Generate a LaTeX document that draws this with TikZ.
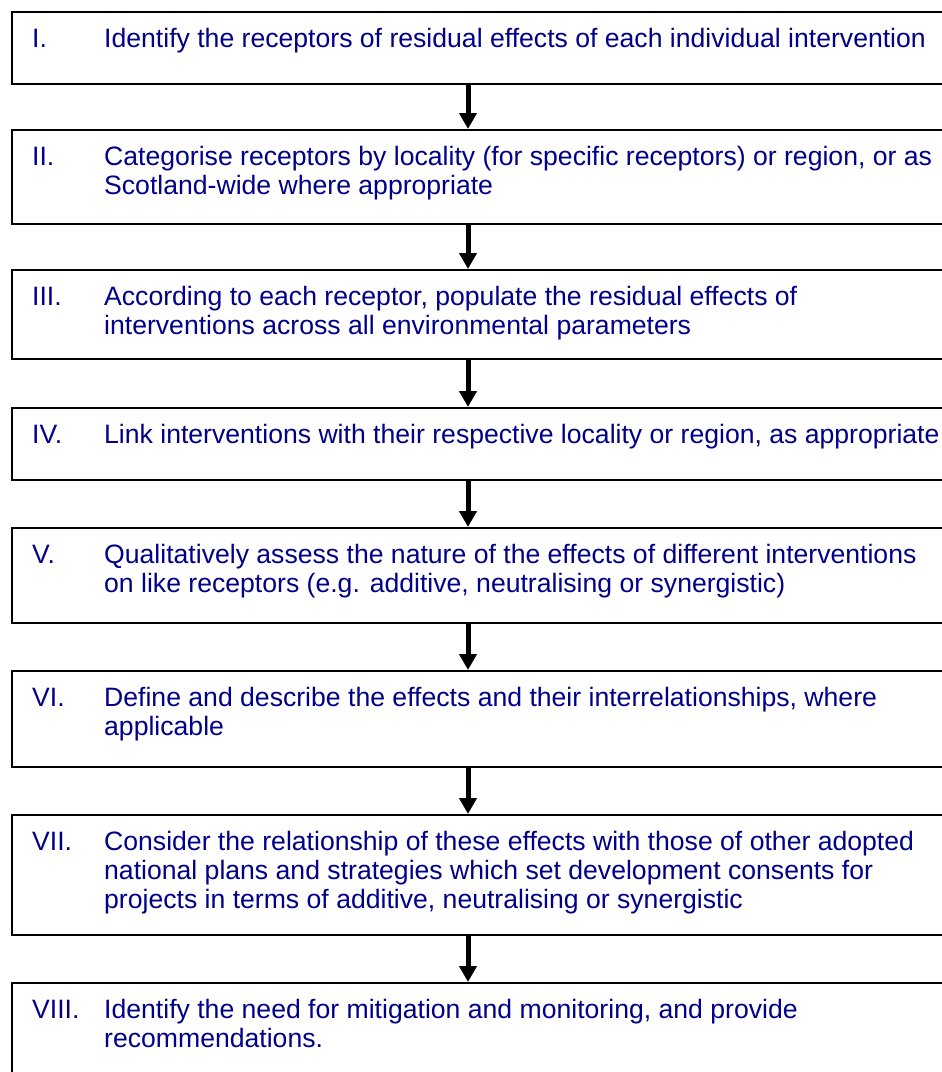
\documentclass[tikz,border=0pt]{standalone}
\usepackage{fontspec}
\setmainfont{Liberation Sans}
\usetikzlibrary{arrows.meta,calc}
\definecolor{txtblue}{RGB}{0,0,136}
\tikzset{
  stagebox/.style={draw=black,line width=2.2pt,fill=white,anchor=north west,minimum width=980pt,inner sep=0pt},
  numlabel/.style={anchor=base west,inner sep=0pt,text=txtblue,font=\fontsize{26.6}{29.3}\selectfont},
  bodytext/.style={anchor=base west,inner sep=0pt,text=txtblue,font=\fontsize{26.6}{29.3}\selectfont},
  flowarrow/.style={line width=5pt,-{Triangle[width=17pt,length=16pt]}}
}
\newcommand{\bodyblock}[1]{\parbox[t]{900pt}{\raggedright #1}}
\begin{document}
\begin{tikzpicture}[x=1pt,y=-1pt]
\useasboundingbox (0,0) rectangle (942,1072);
\clip (0,0) rectangle (942,1072);
\fill[white] (0,0) rectangle (942,1072);
% boxes
\node[stagebox,minimum height=72pt] (b1) at (11,11) {};
\node[stagebox,minimum height=94pt] (b2) at (11,129) {};
\node[stagebox,minimum height=89pt] (b3) at (11,269) {};
\node[stagebox,minimum height=72pt] (b4) at (11,407) {};
\node[stagebox,minimum height=95pt] (b5) at (11,527) {};
\node[stagebox,minimum height=96pt] (b6) at (11,670) {};
\node[stagebox,minimum height=120pt] (b7) at (11,814) {};
\node[stagebox,minimum height=110pt] (b8) at (11,982) {};
% texts
\node[numlabel] (n1) at ($(b1.north west)+(21,36)$) {I.};
\node[bodytext] (t1) at ($(b1.north west)+(93,36)$) {\bodyblock{Identify the receptors of residual effects of each individual intervention}};
\node[numlabel] (n2) at ($(b2.north west)+(21,36)$) {II.};
\node[bodytext] (t2) at ($(b2.north west)+(93,36)$) {\bodyblock{Categorise receptors by locality (for specific receptors) or region, or as\\Scotland-wide where appropriate}};
\node[numlabel] (n3) at ($(b3.north west)+(21,36)$) {III.};
\node[bodytext] (t3) at ($(b3.north west)+(93,36)$) {\bodyblock{According to each receptor, populate the residual effects of\\interventions across all environmental parameters}};
\node[numlabel] (n4) at ($(b4.north west)+(21,36)$) {IV.};
\node[bodytext] (t4) at ($(b4.north west)+(93,36)$) {\bodyblock{Link interventions with their respective locality or region, as appropriate}};
\node[numlabel] (n5) at ($(b5.north west)+(21,36)$) {V.};
\node[bodytext] (t5) at ($(b5.north west)+(93,36)$) {\bodyblock{Qualitatively assess the nature of the effects of different interventions\\on like receptors (e.g. additive, neutralising or synergistic)}};
\node[numlabel] (n6) at ($(b6.north west)+(21,36)$) {VI.};
\node[bodytext] (t6) at ($(b6.north west)+(93,36)$) {\bodyblock{Define and describe the effects and their interrelationships, where\\applicable}};
\node[numlabel] (n7) at ($(b7.north west)+(21,36)$) {VII.};
\node[bodytext] (t7) at ($(b7.north west)+(93,36)$) {\bodyblock{Consider the relationship of these effects with those of other adopted\\national plans and strategies which set development consents for\\projects in terms of additive, neutralising or synergistic}};
\node[numlabel] (n8) at ($(b8.north west)+(21,36)$) {VIII.};
\node[bodytext] (t8) at ($(b8.north west)+(93,36)$) {\bodyblock{Identify the need for mitigation and monitoring, and provide\\recommendations.}};
% arrows
\foreach \a/\b in {b1/b2,b2/b3,b3/b4,b4/b5,b5/b6,b6/b7,b7/b8}{
  \draw[flowarrow] ($(\a.south west)+(457,0)$) -- ($(\b.north west)+(457,0)$);
}
\end{tikzpicture}
\end{document}
